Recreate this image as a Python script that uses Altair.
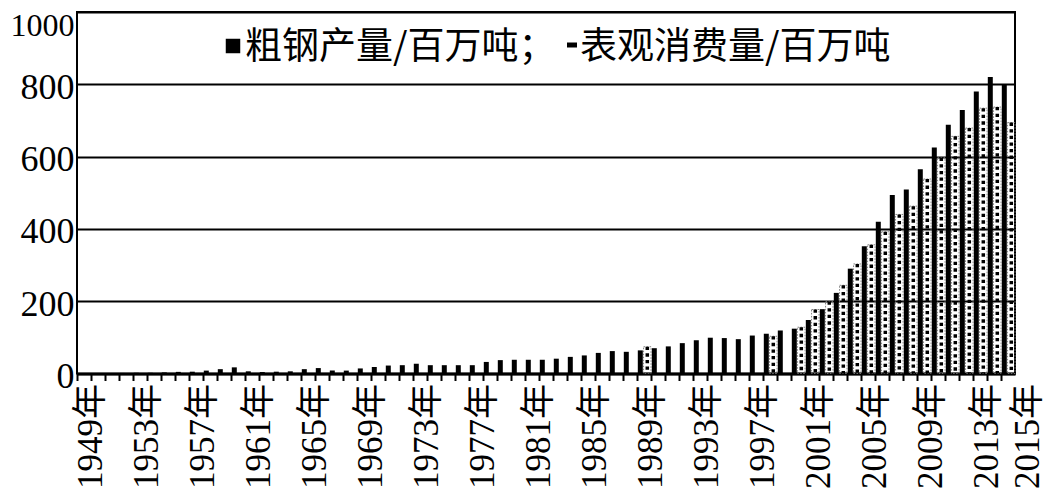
import altair as alt
import pandas as pd

# ---- data ----
years = list(range(1949, 2016))
production = [1, 1, 1, 1.5, 2, 2, 3, 4.5, 5, 8,
              12, 17, 6, 4, 5, 6, 12, 15, 8, 8,
              14, 18, 22, 23, 27, 23, 23, 23, 23, 32,
              37, 38, 38, 38, 41, 46, 50, 57, 62, 60,
              64, 70, 75, 84, 92, 99, 98, 95, 105, 110,
              119, 124, 148, 178, 223, 290, 352, 420, 494, 509,
              565, 625, 688, 729, 780, 820, 801]
cons_years = [1989, 1998, 2000, 2001, 2002, 2003, 2004, 2005, 2006,
              2007, 2008, 2009, 2010, 2011, 2012, 2013, 2014, 2015]
cons_values = [74, 103, 128, 177, 199, 244, 303, 356, 392,
               440, 463, 538, 597, 656, 679, 734, 737, 694]
y_ticks = [0, 200, 400, 600, 800, 1000]
legend_labels = ["粗钢产量/百万吨；", "表观消费量/百万吨"]

prod_df = pd.DataFrame({"年份": years, "粗钢产量": production})
cons_df = pd.DataFrame({"年份": cons_years, "表观消费量": cons_values})

SERIF = "Liberation Serif, Noto Sans CJK SC"
SANS = "Noto Sans CJK SC"
W, H = 938, 361.5

xscale = alt.Scale(domain=years, paddingInner=0, paddingOuter=0)
yscale = alt.Scale(domain=[0, 1000], nice=False)

xaxis = alt.Axis(
    bandPosition=0, ticks=True, tickSize=7, tickWidth=2, tickColor="black",
    domain=True, domainColor="black", domainWidth=2.5,
    labelAngle=-90, labelFont=SERIF, labelFontSize=35, labelColor="black",
    labelPadding=3, labelOverlap=False,
    labelOffset={"condition": {"test": "datum.value == 2015", "value": 20}, "value": 7},
    labelExpr="(datum.value - 1949) % 4 == 0 || datum.value == 2015 ? datum.value + '年' : ''",
    grid=False, title=None,
)
yaxis = alt.Axis(
    values=y_ticks, format="d", domain=False, ticks=False, grid=True, gridColor="black",
    gridWidth=1.8, gridOpacity=1, labelFont=SERIF,
    labelFontSize={"condition": {"test": "datum.value == 1000", "value": 32}, "value": 36},
    labelColor="black", labelPadding=3,
    labelOffset={"condition": {"test": "datum.value == 1000", "value": 13}, "value": 3},
    title=None,
)

bars = alt.Chart(prod_df).mark_bar(width=5, xOffset=-3.7, color="black").encode(
    x=alt.X("年份:O", scale=xscale, axis=xaxis),
    y=alt.Y("粗钢产量:Q", scale=yscale, axis=yaxis),
)

outline = alt.Chart(cons_df).mark_bar(
    width=7.5, xOffset=3.3, fillOpacity=0, stroke="#777777", strokeWidth=0.9,
    strokeDash=[1.6, 1.4]
).encode(
    x=alt.X("年份:O", scale=xscale),
    y=alt.Y("表观消费量:Q", scale=yscale),
)

dots = alt.Chart(cons_df).mark_rule(
    xOffset=3.3, strokeWidth=3.5, strokeDash=[3.3, 3.3], color="black"
).encode(
    x=alt.X("年份:O", scale=xscale),
    y=alt.Y("表观消费量:Q", scale=yscale),
    y2=alt.datum(0),
)

one = pd.DataFrame({"k": [0]})
leg_sq = alt.Chart(one).mark_square(size=210, color="black", opacity=1, filled=True).encode(
    x=alt.value(156), y=alt.value(34)
)
leg_t1 = alt.Chart(pd.DataFrame({"t": [legend_labels[0]]})).mark_text(
    font=SANS, fontSize=37, align="left", baseline="middle", color="black"
).encode(text="t:N", x=alt.value(168), y=alt.value(35.5))
leg_dash = alt.Chart(one).mark_rule(strokeWidth=5, color="black").encode(
    x=alt.value(490), x2=alt.value(500), y=alt.value(33)
)
leg_t2 = alt.Chart(pd.DataFrame({"t": [legend_labels[1]]})).mark_text(
    font=SANS, fontSize=37, align="left", baseline="middle", color="black"
).encode(text="t:N", x=alt.value(503), y=alt.value(35.5))

chart = alt.layer(bars, outline, dots, leg_sq, leg_t1, leg_dash, leg_t2).properties(
    width=W, height=H,
    padding={"left": 69, "top": 4, "right": 35, "bottom": 118},
    autosize=alt.AutoSizeParams(type="none"),
    background="white",
).configure_view(stroke="black", strokeWidth=2)

chart.save("out.html", embed_options={"renderer": "svg", "actions": False})
